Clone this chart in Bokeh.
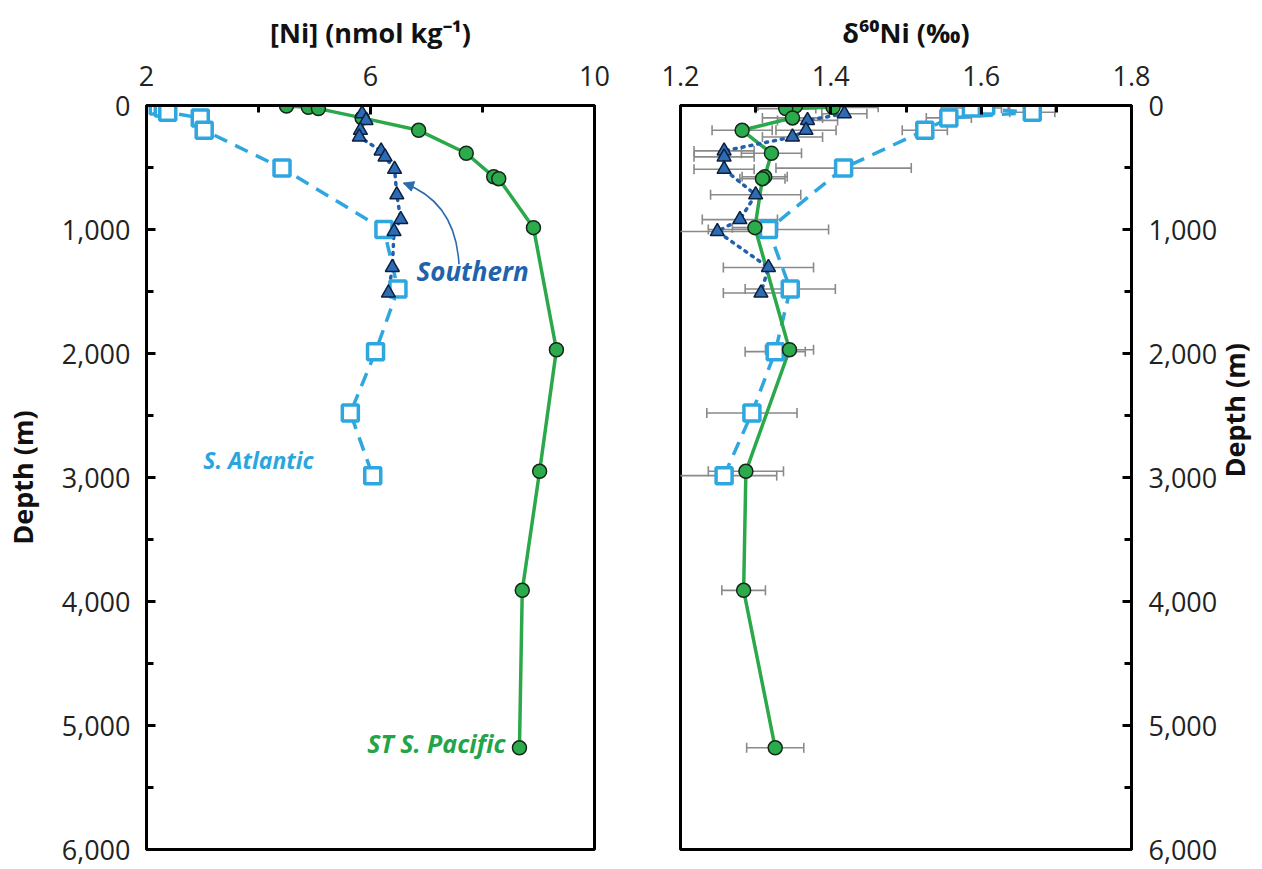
import math
import numpy as np
from bokeh.plotting import figure
from bokeh.models import Range1d, FixedTicker, NumeralTickFormatter, Arrow, NormalHead
from bokeh.layouts import row
from bokeh.embed import file_html
from bokeh.resources import INLINE
from bokeh.core.properties import value

# ---------------- data ----------------
# ST S. Pacific (green circles)
pac_depth = [5, 15, 25, 100, 200, 385, 575, 590, 985, 1970, 2950, 3910, 5180]
pac_ni = [4.50, 4.89, 5.07, 5.85, 6.86, 7.71, 8.20, 8.29, 8.91, 9.32, 9.02, 8.71, 8.66]
pac_d60 = [1.353, 1.403, 1.340, 1.349, 1.282, 1.321, 1.312, 1.309, 1.299, 1.345, 1.287, 1.284, 1.326]
pac_err = [0.05, 0.06, 0.04, 0.04, 0.04, 0.04, 0.03, 0.03, 0.03, 0.032, 0.05, 0.029, 0.038]

# Southern (blue triangles)
so_depth = [66, 120, 200, 254, 366, 414, 514, 720, 920, 1016, 1306, 1512]
so_ni = [5.85, 5.92, 5.82, 5.80, 6.19, 6.26, 6.43, 6.47, 6.54, 6.42, 6.39, 6.32]
so_d60 = [1.418, 1.369, 1.367, 1.349, 1.258, 1.258, 1.258, 1.300, 1.279, 1.249, 1.317, 1.307]
so_err = [0.03, 0.04, 0.04, 0.04, 0.04, 0.04, 0.04, 0.06, 0.05, 0.06, 0.06, 0.05]

# S. Atlantic (open light-blue squares)
sa_depth = [5, 20, 55, 100, 200, 505, 1000, 1480, 1985, 2480, 2985]
sa_ni = [2.21, 2.30, 2.38, 2.96, 3.03, 4.42, 6.24, 6.49, 6.09, 5.64, 6.04]
sa_d60 = [1.606, 1.587, 1.668, 1.557, 1.525, 1.417, 1.317, 1.346, 1.326, 1.295, 1.258]
sa_err = [0.03, 0.04, 0.03, 0.03, 0.03, 0.09, 0.08, 0.06, 0.04, 0.06, 0.07]

ni_ticks = [2, 6, 10]
ni_minor = [4, 8]
d60_ticks = [1.2, 1.4, 1.6, 1.8]
d60_minor = [1.3, 1.5, 1.7]
depth_ticks = [0, 1000, 2000, 3000, 4000, 5000, 6000]
depth_minor = [500, 1500, 2500, 3500, 4500, 5500]

# ---------------- styles ----------------
FONT = "Open Sans"
GREEN = "#2aa84a"
GREEN_FILL = "#2bab4c"
DARK_OUT = "#16261a"
TRI_FILL = "#2d6cb5"
TRI_OUT = "#0c1f3f"
DOT_BLUE = "#2260ad"
SQ_BLUE = "#2ea7e0"
ERR_GRAY = "#8a8a8a"


def style_axis(ax, label):
    ax.axis_label = label
    ax.axis_label_text_font = FONT
    ax.axis_label_text_font_style = "bold"
    ax.axis_label_text_font_size = "27px"
    ax.axis_label_text_color = "#111111"
    ax.major_label_text_font = FONT
    ax.major_label_text_font_size = "27px"
    ax.major_label_text_color = "#222222"
    ax.axis_line_width = 3
    ax.axis_line_color = "black"
    ax.major_tick_line_width = 3
    ax.minor_tick_line_width = 3
    ax.major_tick_in = 9
    ax.major_tick_out = 0
    ax.minor_tick_in = 7
    ax.minor_tick_out = 0


def make_fig(xr, yloc, mbl, mbr, fw):
    p = figure(output_backend="svg", toolbar_location=None,
               x_range=xr, y_range=Range1d(6000, 0),
               frame_width=fw, frame_height=744,
               x_axis_location="above", y_axis_location=yloc,
               min_border_left=mbl, min_border_right=mbr,
               min_border_top=105, min_border_bottom=20,
               background_fill_color="white", border_fill_color="white")
    p.xgrid.visible = False
    p.ygrid.visible = False
    p.outline_line_color = "black"
    p.outline_line_width = 3
    p.outline_line_alpha = 1.0
    return p


def add_series(p, x_pac, x_so, x_sa):
    p.line(x_sa, sa_depth, line_color=SQ_BLUE, line_width=3.5, line_dash="14 9")
    p.line(x_pac, pac_depth, line_color=GREEN, line_width=3.5)
    p.line(x_so, so_depth, line_color=DOT_BLUE, line_width=3.5, line_dash="2 6", line_cap="round")
    p.scatter(x_sa, sa_depth, marker="square", size=16, fill_color="white",
              line_color=SQ_BLUE, line_width=3.5)
    p.scatter(x_pac, pac_depth, marker="circle", size=14, fill_color=GREEN_FILL,
              line_color=DARK_OUT, line_width=1.5)
    p.scatter(x_so, so_depth, marker="triangle", size=14, fill_color=TRI_FILL,
              line_color=TRI_OUT, line_width=1.5)


def add_errors(p, xs, depths, errs):
    xs = np.asarray(xs)
    e = np.asarray(errs)
    lo = xs - e
    hi = xs + e
    p.segment(x0=lo, y0=depths, x1=hi, y1=depths, line_color=ERR_GRAY, line_width=1.6)
    p.scatter(np.concatenate([lo, hi]), list(depths) + list(depths), marker="dash",
              angle=math.pi / 2, size=10, line_color=ERR_GRAY, line_width=1.6)


# ---------------- left panel ----------------
p1 = make_fig(Range1d(2, 10), "left", 146, 43, 448)
p1.xaxis[0].ticker = FixedTicker(ticks=ni_ticks, minor_ticks=ni_minor)
p1.yaxis[0].ticker = FixedTicker(ticks=depth_ticks, minor_ticks=depth_minor)
p1.yaxis[0].formatter = NumeralTickFormatter(format="0,0")
style_axis(p1.xaxis[0], "[Ni] (nmol kg\u207b\u00b9)")
style_axis(p1.yaxis[0], "Depth (m)")
p1.xaxis[0].major_label_standoff = 20
p1.xaxis[0].axis_label_standoff = 12
p1.yaxis[0].major_label_standoff = 16
p1.yaxis[0].axis_label_standoff = 18

add_series(p1, pac_ni, so_ni, sa_ni)

p1.text(x=[6.82], y=[1336], text=["Southern"], text_font=value(FONT),
        text_font_style="bold italic", text_font_size="26px", text_color="#1f63ad",
        text_align="left", text_baseline="middle")
p1.text(x=[4.0], y=[2856], text=["S. Atlantic"], text_font=value(FONT),
        text_font_style="bold italic", text_font_size="23px", text_color="#2ba5de",
        text_align="center", text_baseline="middle")
p1.text(x=[8.41], y=[5144], text=["ST S. Pacific"], text_font=value(FONT),
        text_font_style="bold italic", text_font_size="25px", text_color="#22a447",
        text_align="right", text_baseline="middle")

# curved arrow pointing to the Southern profile
p1.quadratic(x0=[7.58], y0=[1280], x1=[6.59], y1=[626], cx=[7.52], cy=[776],
             line_color="#2b6cb0", line_width=1.6)
p1.add_layout(Arrow(end=NormalHead(size=10, fill_color="#2b6cb0", line_color="#2b6cb0"),
                    x_start=6.73, y_start=648, x_end=6.59, y_end=626,
                    line_color="#2b6cb0", line_width=1.6))

# ---------------- right panel ----------------
p2 = make_fig(Range1d(1.2, 1.8), "right", 43, 130, 451)
p2.xaxis[0].ticker = FixedTicker(ticks=d60_ticks, minor_ticks=d60_minor)
p2.xaxis[0].formatter = NumeralTickFormatter(format="0.0")
p2.yaxis[0].ticker = FixedTicker(ticks=depth_ticks, minor_ticks=depth_minor)
p2.yaxis[0].formatter = NumeralTickFormatter(format="0,0")
style_axis(p2.xaxis[0], "\u03b4\u2076\u2070Ni (\u2030)")
style_axis(p2.yaxis[0], "Depth (m)")
p2.xaxis[0].major_label_standoff = 20
p2.xaxis[0].axis_label_standoff = 12
p2.yaxis[0].major_label_standoff = 17
p2.yaxis[0].axis_label_standoff = 14
try:
    p2.yaxis[0].axis_label_orientation = math.pi / 2
except AttributeError:
    pass

add_errors(p2, sa_d60, sa_depth, sa_err)
add_errors(p2, pac_d60, pac_depth, pac_err)
add_errors(p2, so_d60, so_depth, so_err)
add_series(p2, pac_d60, so_d60, sa_d60)

layout = row(p1, p2)
open("out.html", "w").write(file_html(layout, INLINE))
